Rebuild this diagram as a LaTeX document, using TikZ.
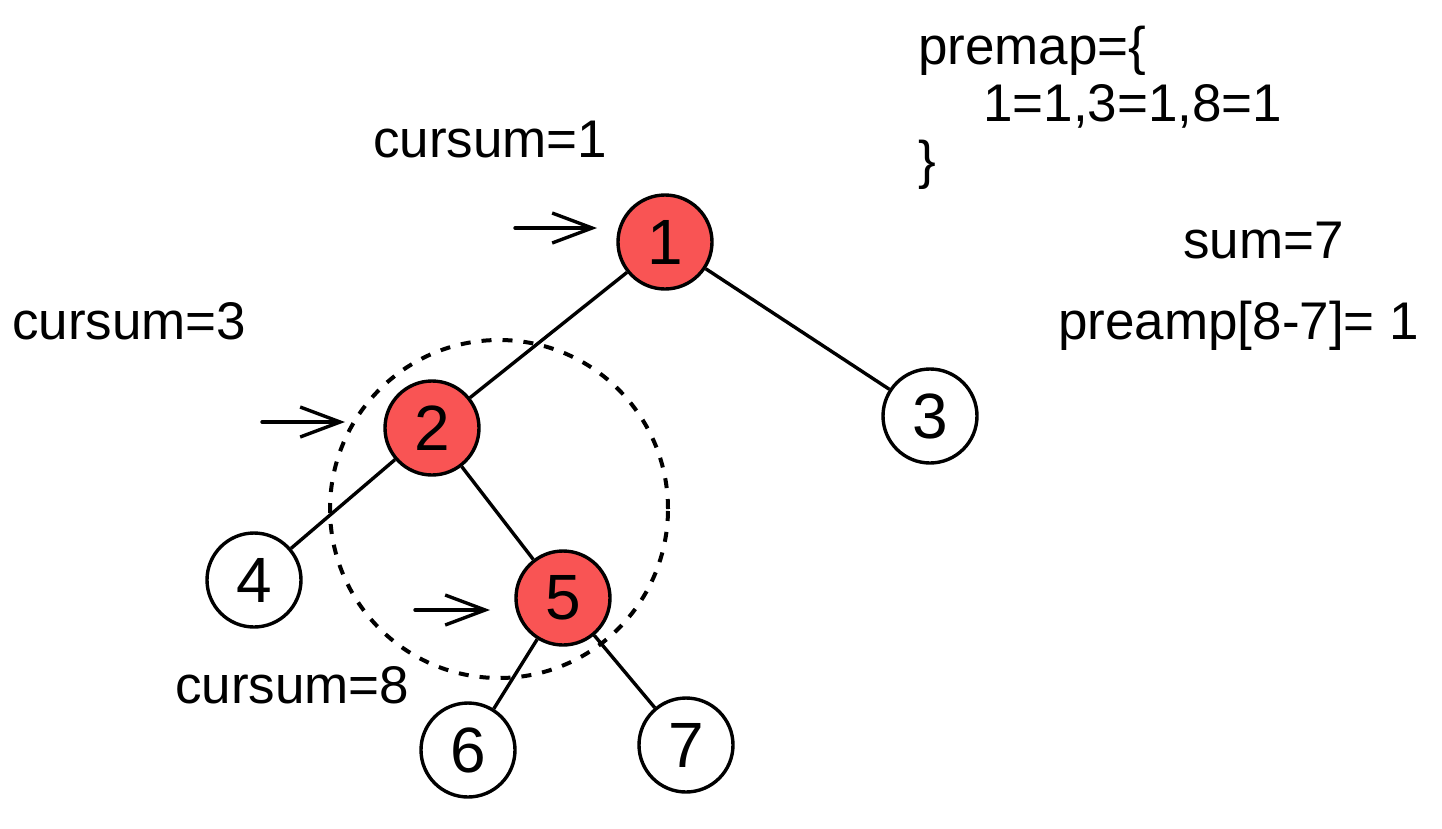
\documentclass[tikz,border=0pt]{standalone}
\usepackage{fontspec}
\setmainfont{Liberation Sans}
\usetikzlibrary{arrows.meta}
\definecolor{nodered}{RGB}{249,84,84}
\begin{document}
\begin{tikzpicture}[x=1pt,y=-1pt,
  treenode/.style={circle, draw, line width=3.4pt, minimum size=94pt, inner sep=0pt,
    font=\fontsize{64}{70}\selectfont},
  visited/.style={treenode, fill=nodered},
  unvisited/.style={treenode, fill=white},
  edge/.style={line width=3.4pt},
  pointer/.style={line width=3.4pt, line join=round, line cap=round,
    -{Straight Barb[length=40pt,width=30pt,line width=3.4pt]}},
  note/.style={anchor=base west, inner sep=0pt, font=\fontsize{53}{60}\selectfont},
  window/.style={line width=4pt, dash pattern=on 10pt off 11pt}]
\useasboundingbox (0,0) rectangle (1442,828);

% path window around the subtree rooted at 2
\coordinate (wc) at (499,509);
\draw[window] (wc) circle (169pt);

% tree
\node[visited]   (n1) at (665,242) {1};
\node[visited]   (n2) at (432,428) {2};
\node[unvisited] (n3) at (930,416) {3};
\node[unvisited] (n4) at (254,580) {4};
\node[visited]   (n5) at (563,598) {5};
\node[unvisited] (n6) at (468,750) {6};
\node[unvisited] (n7) at (686,745) {7};

\draw[edge] (n1) -- (n2);
\draw[edge] (n1) -- (n3);
\draw[edge] (n2) -- (n4);
\draw[edge] (n2) -- (n5);
\draw[edge] (n5) -- (n6);
\draw[edge] (n5) -- (n7);

% pointers to the current node
\coordinate (p1s) at (515,228);
\coordinate (p1e) at (597,228);
\coordinate (p2s) at (262,422);
\coordinate (p2e) at (345,422);
\coordinate (p5s) at (415,610);
\coordinate (p5e) at (490,610);
\draw[pointer] (p1s) -- (p1e);
\draw[pointer] (p2s) -- (p2e);
\draw[pointer] (p5s) -- (p5e);

% running sums
\node[note] (cs1) at (373,157) {cursum=1};
\node[note] (cs3) at (12,339) {cursum=3};
\node[note] (cs8) at (175,703) {cursum=8};

% prefix map
\node[note] (pm1) at (918,64) {premap=\{};
\node[note] (pm2) at (983,121) {1=1,3=1,8=1};
\node[note] (pm3) at (918,178) {\}};
\node[note] (sum) at (1183,258) {sum=7};
\node[note] (pre) at (1058,339) {preamp[8-7]= 1};
\end{tikzpicture}
\end{document}
